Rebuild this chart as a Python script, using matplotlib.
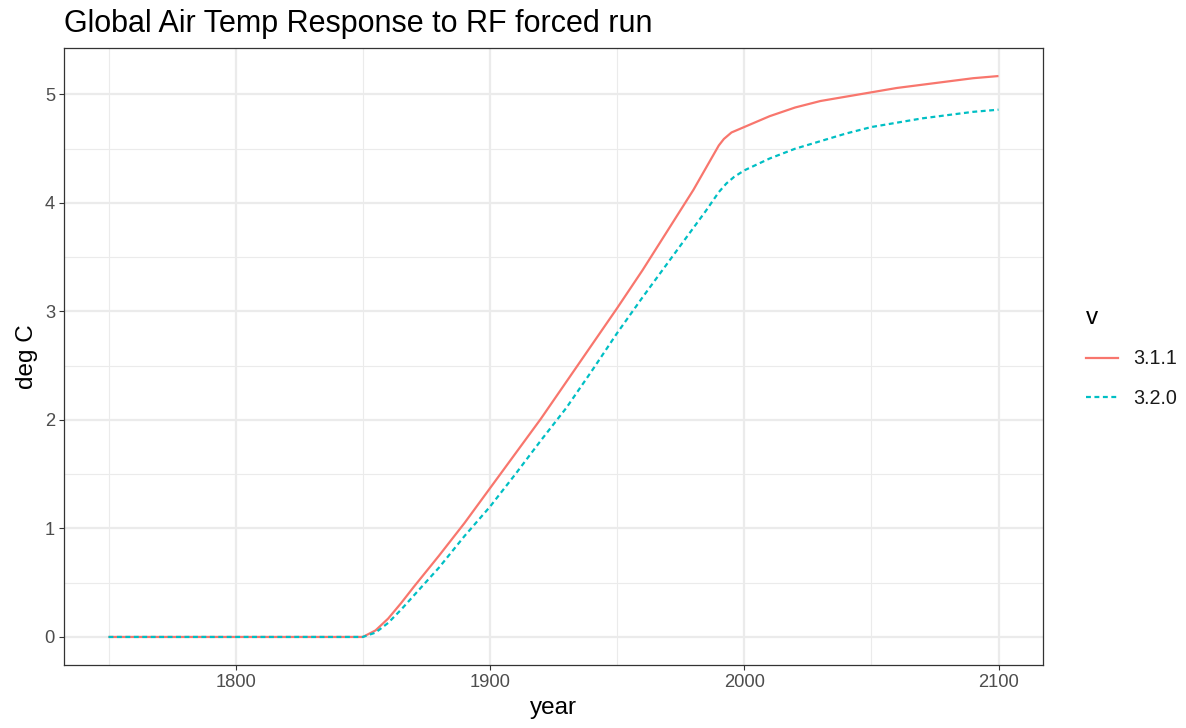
import matplotlib
matplotlib.use("Agg")
import matplotlib.pyplot as plt
from matplotlib.lines import Line2D

plt.rcParams['font.family'] = ['Liberation Sans', 'DejaVu Sans']

title = "Global Air Temp Response to RF forced run"
x_label = "year"
y_label = "deg C"
legend_title = "v"
series_names = ["3.1.1", "3.2.0"]

years_a = [1750, 1850, 1855, 1860, 1865, 1870, 1880, 1890, 1900, 1910, 1920, 1930,
           1940, 1950, 1960, 1970, 1980, 1990, 1992, 1995, 2000, 2010, 2020, 2030,
           2040, 2050, 2060, 2070, 2080, 2090, 2100]
temp_311 = [0.0, 0.0, 0.06, 0.17, 0.31, 0.46, 0.75, 1.05, 1.37, 1.69, 2.01, 2.35,
            2.69, 3.03, 3.38, 3.75, 4.12, 4.53, 4.59, 4.65, 4.70, 4.80, 4.88, 4.94,
            4.98, 5.02, 5.06, 5.09, 5.12, 5.15, 5.17]

years_b = [1750, 1850, 1855, 1860, 1865, 1870, 1875, 1880, 1890, 1900, 1910, 1920,
           1930, 1940, 1950, 1960, 1970, 1980, 1985, 1990, 1993, 1996, 2000, 2010,
           2020, 2030, 2040, 2050, 2060, 2070, 2080, 2090, 2100]
temp_320 = [0.0, 0.0, 0.04, 0.13, 0.25, 0.38, 0.51, 0.64, 0.93, 1.20, 1.50, 1.81,
            2.11, 2.45, 2.80, 3.13, 3.45, 3.77, 3.93, 4.10, 4.18, 4.24, 4.30, 4.41,
            4.50, 4.57, 4.64, 4.70, 4.74, 4.78, 4.81, 4.84, 4.86]

x_ticks = [1800, 1900, 2000, 2100]
y_ticks = [0, 1, 2, 3, 4, 5]
x_minor = [1750, 1850, 1950, 2050]
y_minor = [0.5, 1.5, 2.5, 3.5, 4.5]

red = "#F8766D"
cyan = "#00BFC4"

fig = plt.figure(figsize=(11.86, 7.28), dpi=100)
ax = fig.add_axes([64/1186, 1-665/728, (1043-64)/1186, (665-48)/728])

xmin, xmax = 1750, 2100
ymin, ymax = 0.0, 5.17
ex = (xmax - xmin) * 0.05
ey = (ymax - ymin) * 0.05
ax.set_xlim(xmin - ex, xmax + ex)
ax.set_ylim(ymin - ey, ymax + ey)

for v in x_minor:
    ax.axvline(v, color="#EBEBEB", lw=0.8, zorder=0)
for v in y_minor:
    ax.axhline(v, color="#EBEBEB", lw=0.8, zorder=0)
for v in x_ticks:
    ax.axvline(v, color="#EBEBEB", lw=1.6, zorder=0)
for v in y_ticks:
    ax.axhline(v, color="#EBEBEB", lw=1.6, zorder=0)

ax.plot(years_a, temp_311, color=red, lw=1.6, solid_capstyle="butt", zorder=3)
ax.plot(years_b, temp_320, color=cyan, lw=1.6, dashes=(2.2, 1.6), zorder=3)

ax.set_xticks(x_ticks)
ax.set_yticks(y_ticks)
ax.set_xticklabels([str(t) for t in x_ticks])
ax.set_yticklabels([str(t) for t in y_ticks])
ax.tick_params(axis="both", colors="#333333", labelcolor="#4D4D4D", labelsize=13.2,
               length=3.5, width=0.8, pad=3)
for s in ax.spines.values():
    s.set_color("#333333")
    s.set_linewidth(0.9)

ax.set_xlabel(x_label, fontsize=17.5, color="black", labelpad=4)
ax.set_ylabel(y_label, fontsize=17.5, color="black", labelpad=5)
ax.set_title(title, fontsize=22, loc="left", color="black", pad=11.5, x=0.0)

handles = [Line2D([0], [0], color=red, lw=1.6),
           Line2D([0], [0], color=cyan, lw=1.6, dashes=(2.2, 1.6))]
leg = fig.legend(handles, series_names, title=legend_title, loc="upper left",
                 bbox_to_anchor=(1068/1186, 1-289/728), frameon=False,
                 fontsize=14.2, title_fontsize=17.5, handlelength=1.65,
                 labelspacing=1.05, alignment="left", handletextpad=0.75)
for t in leg.get_texts():
    t.set_color("#1A1A1A")

fig.savefig("out.png", dpi=100)
